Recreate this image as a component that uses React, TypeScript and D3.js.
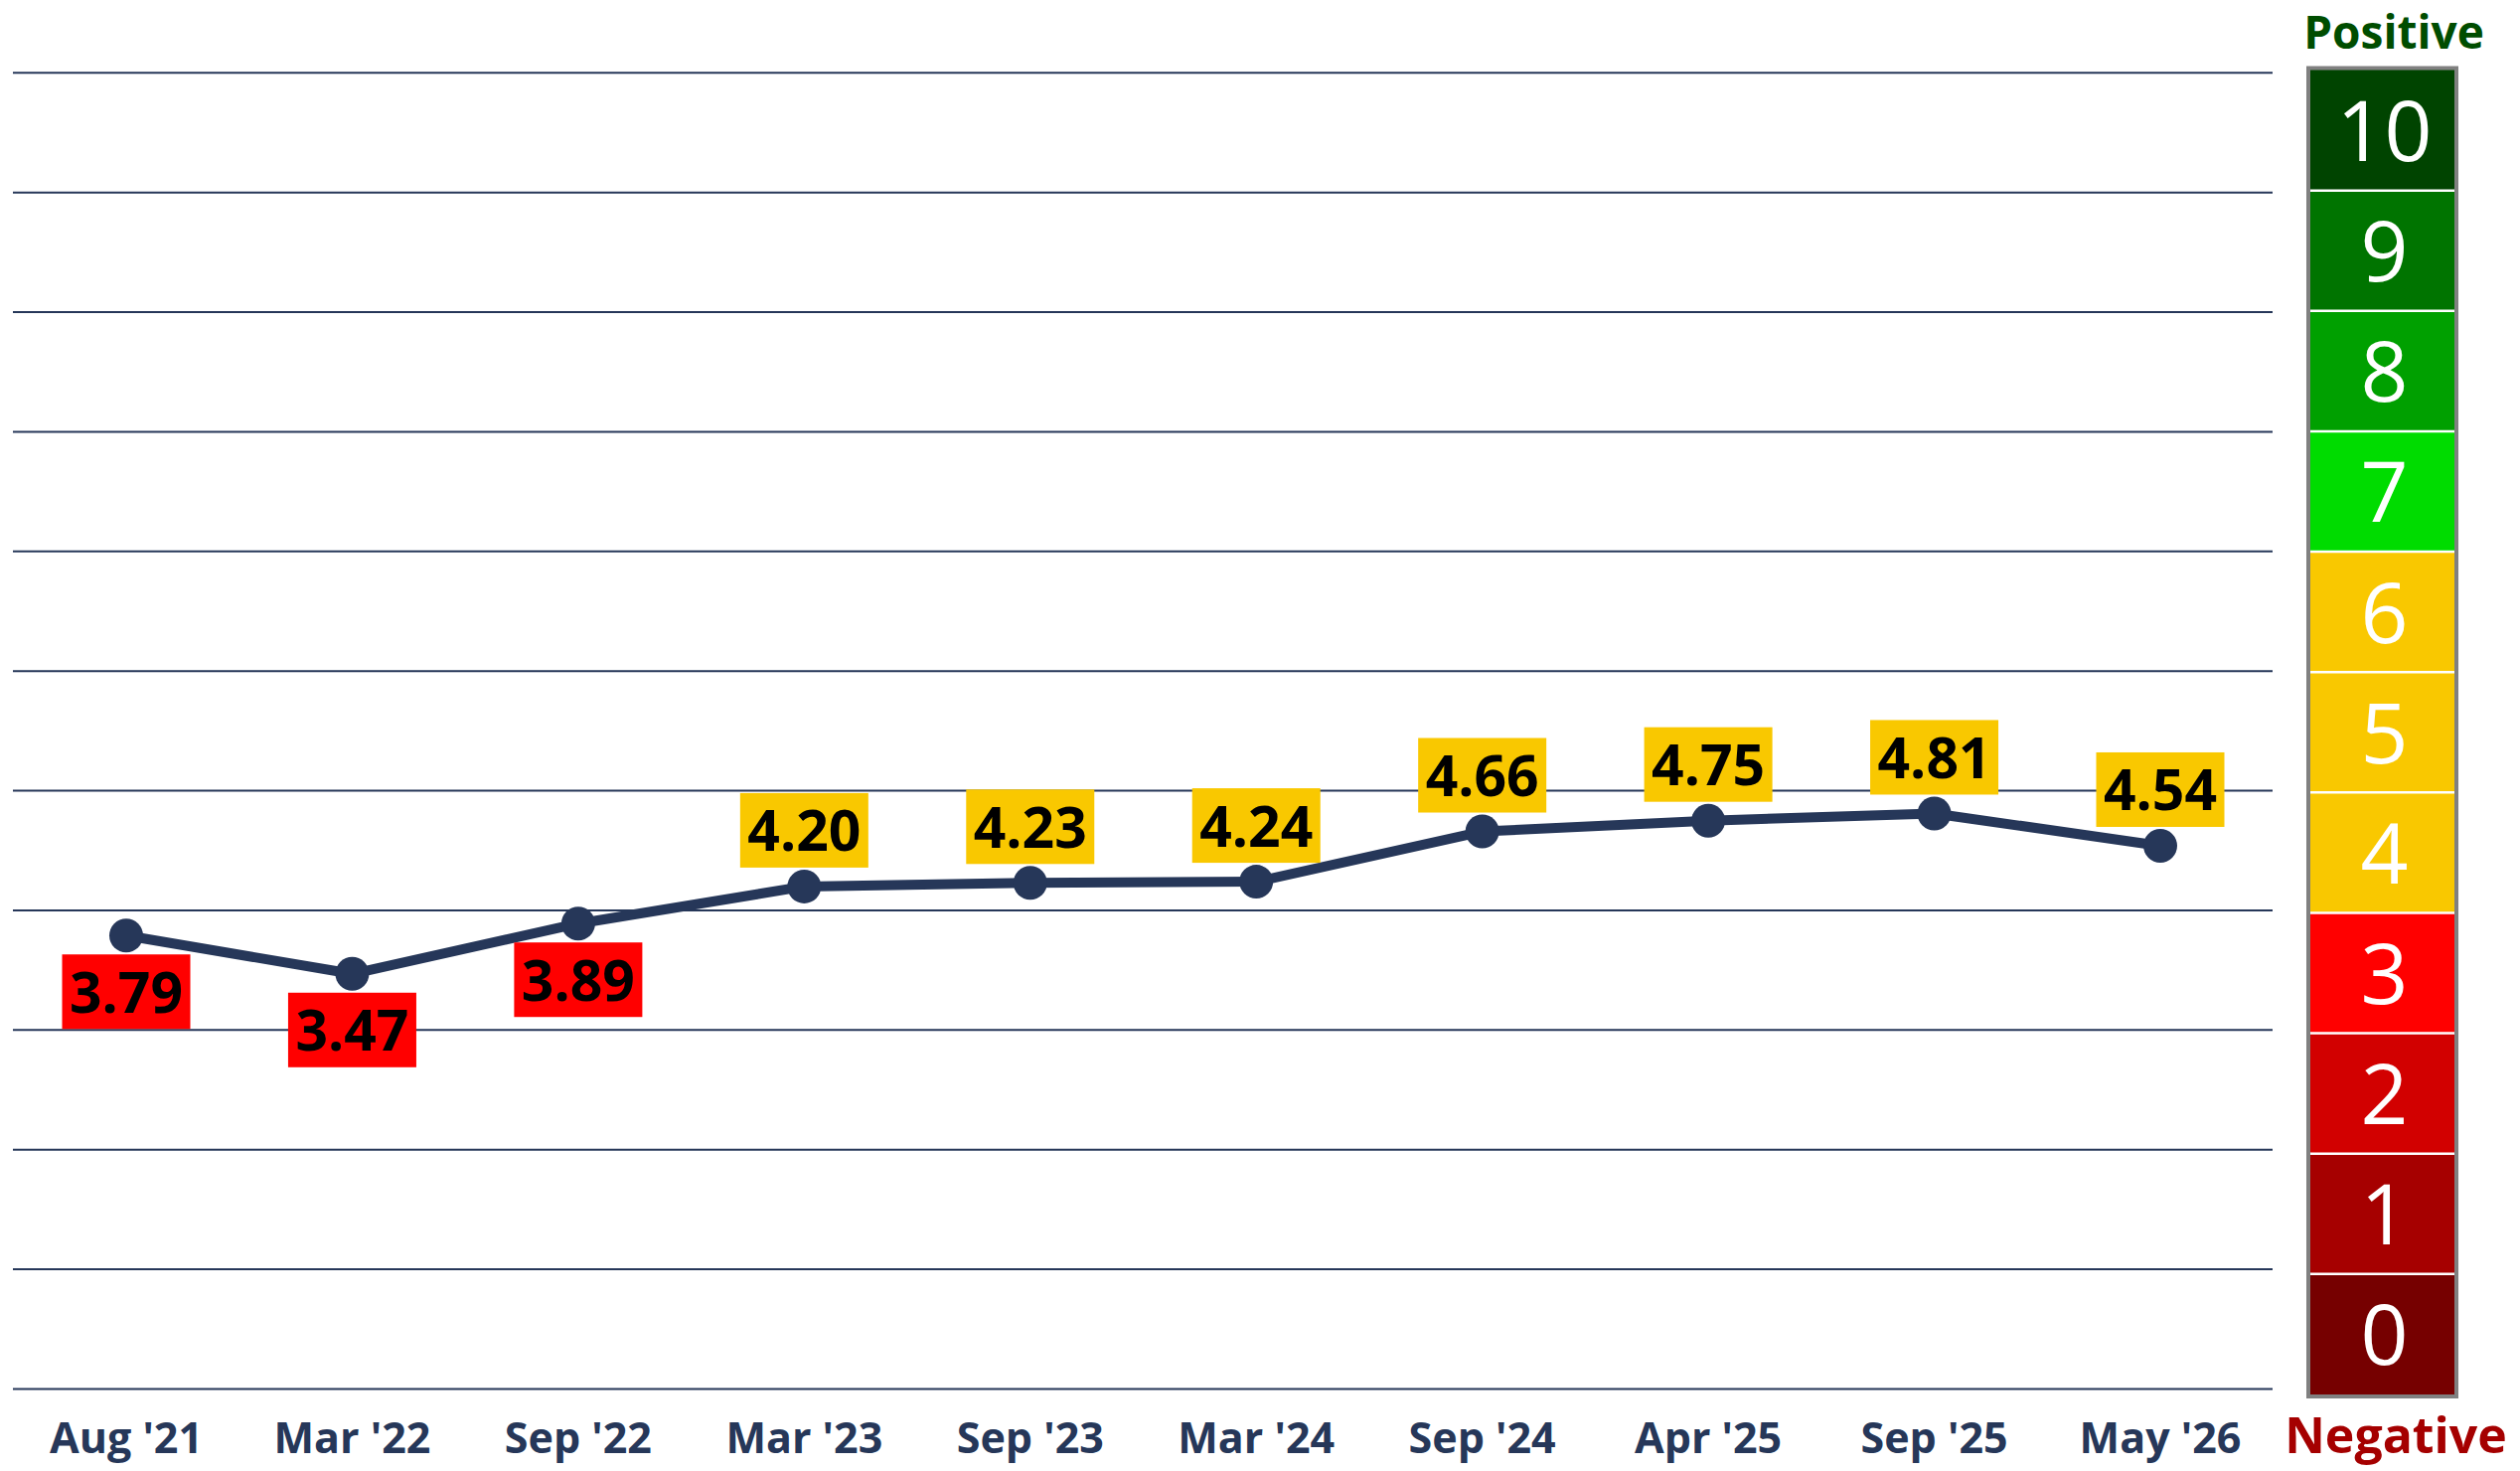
import React from "react";
import * as d3 from "d3";

const categories = ["Aug '21", "Mar '22", "Sep '22", "Mar '23", "Sep '23", "Mar '24", "Sep '24", "Apr '25", "Sep '25", "May '26"];
const values = [3.79, 3.47, 3.89, 4.2, 4.23, 4.24, 4.66, 4.75, 4.81, 4.54];
const scaleLevels = [0, 1, 2, 3, 4, 5, 6, 7, 8, 9, 10];
const scaleColors = ["#760000", "#A60000", "#D20000", "#FF0000", "#F9C800", "#F9C800", "#F9C800", "#00DC00", "#00A000", "#007400", "#004400"];
const gridValues = [0, 1, 2, 3, 4, 5, 6, 7, 8, 9, 10, 11];

const W = 2536;
const H = 1480;
const NAVY = "#263759";
const FONT = "'Open Sans', 'Noto Sans', sans-serif";

export default function App() {
  const x = d3.scalePoint<string>().domain(categories).range([127, 2174]);
  const y = d3.scaleLinear().domain([0, 11]).range([1397.5, 73.3]);
  const s = d3.scaleLinear().domain([0, 11]).range([1403, 70.5]);

  const pts: [number, number][] = values.map((v, i) => [x(categories[i]) as number, y(v)]);
  const line = d3.line()(pts) || "";

  const boxW = 129;
  const boxH = 75;
  const off = 19;

  const sx0 = 2325;
  const sx1 = 2470;

  return (
    <svg width={W} height={H} style={{ position: "absolute", left: 0, top: 0, background: "#fff" }}>
      {gridValues.map((g) => (
        <line key={g} x1={13} x2={2287} y1={y(g)} y2={y(g)} stroke={NAVY} strokeWidth={2} />
      ))}
      {categories.map((c) => (
        <text key={c} x={x(c)} y={1462} textAnchor="middle" fill={NAVY} fontFamily={FONT} fontWeight={700} fontSize={43}>
          {c}
        </text>
      ))}
      <path d={line} fill="none" stroke={NAVY} strokeWidth={10} strokeLinejoin="round" />
      {pts.map(([px, py], i) => (
        <circle key={i} cx={px} cy={py} r={17} fill={NAVY} />
      ))}
      {values.map((v, i) => {
        const [px, py] = pts[i];
        const below = v < 4;
        const top = below ? py + off : py - off - boxH;
        return (
          <g key={"l" + i}>
            <rect x={px - boxW / 2} y={top} width={boxW} height={boxH} fill={scaleColors[Math.floor(v)]} />
            <text x={px} y={top + boxH / 2 + 21} textAnchor="middle" fill="#000" fontFamily={FONT} fontWeight={700} fontSize={57}>
              {v.toFixed(2)}
            </text>
          </g>
        );
      })}
      <rect x={sx0 - 4} y={s(11) - 4} width={sx1 - sx0 + 8} height={s(0) - s(11) + 8} fill="#808080" />
      {scaleLevels.map((lv) => (
        <g key={"s" + lv}>
          <rect x={sx0} y={s(lv + 1)} width={sx1 - sx0} height={s(lv) - s(lv + 1)} fill={scaleColors[lv]} />
          <text x={(sx0 + sx1) / 2 + 2} y={(s(lv) + s(lv + 1)) / 2 + 31} textAnchor="middle" fill="#fff" fontFamily={FONT} fontWeight={400} fontSize={84}>
            {lv}
          </text>
        </g>
      ))}
      {scaleLevels.slice(1).map((lv) => (
        <line key={"sep" + lv} x1={sx0} x2={sx1} y1={s(lv)} y2={s(lv)} stroke="#fff" strokeWidth={2.5} />
      ))}
      <text x={2409} y={49} textAnchor="middle" fill="#004D00" fontFamily={FONT} fontWeight={700} fontSize={46}>
        Positive
      </text>
      <text x={2411} y={1462} textAnchor="middle" fill="#A50000" fontFamily={FONT} fontWeight={700} fontSize={50}>
        Negative
      </text>
    </svg>
  );
}
